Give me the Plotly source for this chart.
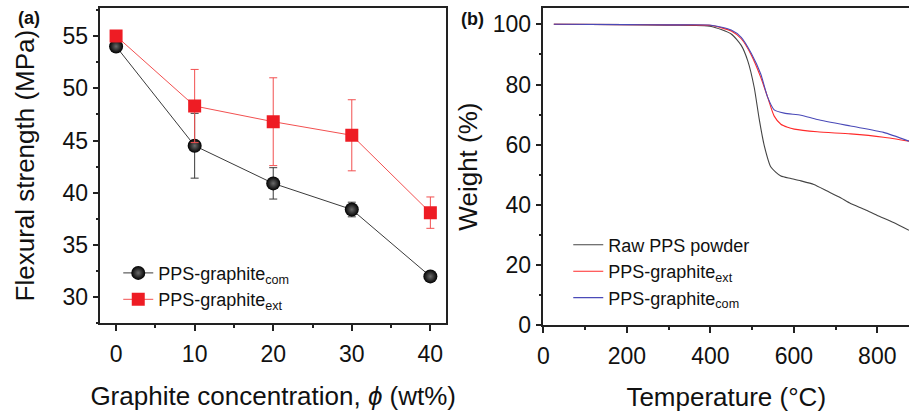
import plotly.graph_objects as go

# ---- Panel (a): flexural strength ----
conc = [0, 10, 20, 30, 40]
com_strength = [54.0, 44.5, 40.9, 38.4, 32.0]
com_err = [0.3, 3.1, 1.5, 0.7, 0.3]
ext_strength = [55.0, 48.3, 46.8, 45.5, 38.1]
ext_err = [0.3, 3.5, 4.2, 3.4, 1.5]

# ---- Panel (b): TGA ----
raw_T = [25, 200, 300, 402, 450, 474, 490, 505, 517, 529, 545, 569, 593, 617, 648, 680, 712, 736, 770, 799, 839, 876]
raw_W = [100.0, 99.9, 99.7, 99.3, 96.8, 93.0, 87.7, 79.1, 68.6, 59.8, 52.6, 49.6, 48.8, 48.0, 46.8, 44.6, 42.4, 40.5, 38.5, 36.6, 34.2, 31.6]
ext_T = [25, 200, 300, 402, 450, 474, 498, 521, 537, 553, 569, 585, 601, 656, 736, 815, 876]
ext_W = [100.0, 99.9, 99.8, 99.6, 97.8, 95.2, 89.8, 82.3, 75.9, 69.5, 66.8, 65.8, 65.2, 64.3, 63.6, 62.5, 61.2]
com_T = [25, 200, 300, 402, 450, 474, 498, 521, 537, 553, 577, 617, 656, 736, 815, 876]
com_W = [100.0, 99.9, 99.8, 99.7, 98.1, 95.7, 90.4, 83.4, 75.9, 71.6, 70.5, 69.8, 68.4, 66.2, 64.1, 61.2]

FONT = "Liberation Sans, Arial, sans-serif"
AX = "#222222"

fig = go.Figure()

fig.add_trace(go.Scatter(
    x=conc, y=com_strength, mode="lines+markers", name="PPS-graphite<sub>com</sub>",
    line=dict(color="#3a3a3a", width=1),
    marker=dict(symbol="circle", size=14, color="#000000",
                gradient=dict(type="radial", color="#6a6a6a"),
                line=dict(width=0)),
    error_y=dict(type="data", array=com_err, color="#3a3a3a", thickness=1, width=4),
    xaxis="x", yaxis="y", legend="legend"))
fig.add_trace(go.Scatter(
    x=conc, y=ext_strength, mode="lines+markers", name="PPS-graphite<sub>ext</sub>",
    line=dict(color="#f25050", width=1),
    marker=dict(symbol="square", size=13, color="#ee1c24", line=dict(width=0)),
    error_y=dict(type="data", array=ext_err, color="#f25050", thickness=1, width=4),
    xaxis="x", yaxis="y", legend="legend"))

fig.add_trace(go.Scatter(x=raw_T, y=raw_W, mode="lines", name="Raw PPS powder",
                         line=dict(color="#444444", width=1.1, shape="spline", smoothing=0.6),
                         xaxis="x2", yaxis="y2", legend="legend2"))
fig.add_trace(go.Scatter(x=ext_T, y=ext_W, mode="lines", name="PPS-graphite<sub>ext</sub>",
                         line=dict(color="#ff2a2a", width=1.1, shape="spline", smoothing=0.6),
                         xaxis="x2", yaxis="y2", legend="legend2"))
fig.add_trace(go.Scatter(x=com_T, y=com_W, mode="lines", name="PPS-graphite<sub>com</sub>",
                         line=dict(color="#4a4ab8", width=1.1, shape="spline", smoothing=0.6),
                         xaxis="x2", yaxis="y2", legend="legend2"))

W, H = 909, 412
def dx(a, b):
    return [a / W, b / W]
def dy(top, bottom):
    return [1 - bottom / H, 1 - top / H]

common = dict(showline=True, linecolor=AX, linewidth=1.5, ticks="outside", ticklen=6,
              tickwidth=1.5, tickcolor=AX, showgrid=False, zeroline=False,
              tickfont=dict(family=FONT, size=23, color="#111"))
TITLE_FONT = dict(family=FONT, size=26, color="#111")

fig.update_layout(
    width=W, height=H, margin=dict(l=0, r=0, t=0, b=0),
    paper_bgcolor="white", plot_bgcolor="white",
    font=dict(family=FONT, color="#111"),
    xaxis=dict(domain=dx(95, 443), range=[-2, 42], dtick=10, mirror=True, anchor="y",
               ticklabelstandoff=3,
               minor=dict(ticks="outside", ticklen=3, dtick=5, tickcolor=AX, tickwidth=1.5),
               title=dict(text="Graphite concentration, <i>ϕ</i> (wt%)",
                          font=TITLE_FONT, standoff=21),
               **common),
    yaxis=dict(domain=dy(8, 334), range=[27.5, 57.7], dtick=5, mirror=True, anchor="x",
               minor=dict(ticks="outside", ticklen=3, dtick=2.5, tickcolor=AX, tickwidth=1.5),
               title=dict(text="Flexural strength (MPa)", font=TITLE_FONT, standoff=20),
               **common),
    xaxis2=dict(domain=dx(541, 909), range=[0, 876], dtick=200, mirror=True, anchor="y2",
                ticklabelstandoff=3,
                minor=dict(ticks="outside", ticklen=3, dtick=100, tickcolor=AX, tickwidth=1.5),
                title=dict(text="Temperature (°C)", font=TITLE_FONT, standoff=21),
                **common),
    yaxis2=dict(domain=dy(8, 336), range=[0, 105.5], dtick=20, mirror=False, anchor="x2",
                minor=dict(ticks="outside", ticklen=3, dtick=10, tickcolor=AX, tickwidth=1.5),
                title=dict(text="Weight (%)", font=TITLE_FONT, standoff=8),
                **common),
    legend=dict(x=113 / W, y=1 - 263 / H, xanchor="left", yanchor="top",
                bgcolor="rgba(0,0,0,0)", font=dict(family=FONT, size=18, color="#111"),
                tracegroupgap=0),
    legend2=dict(x=566 / W, y=1 - 234 / H, xanchor="left", yanchor="top",
                 bgcolor="rgba(0,0,0,0)", font=dict(family=FONT, size=18, color="#111"),
                 tracegroupgap=0),
    annotations=[
        dict(text="<b>(a)</b>", x=23 / W, y=1 - 19 / H, xref="paper", yref="paper",
             xanchor="center", yanchor="middle",
             showarrow=False, font=dict(family=FONT, size=18, color="#111")),
        dict(text="<b>(b)</b>", x=470 / W, y=1 - 20 / H, xref="paper", yref="paper",
             xanchor="center", yanchor="middle",
             showarrow=False, font=dict(family=FONT, size=18, color="#111")),
    ],
)

fig.write_html("out.html")
